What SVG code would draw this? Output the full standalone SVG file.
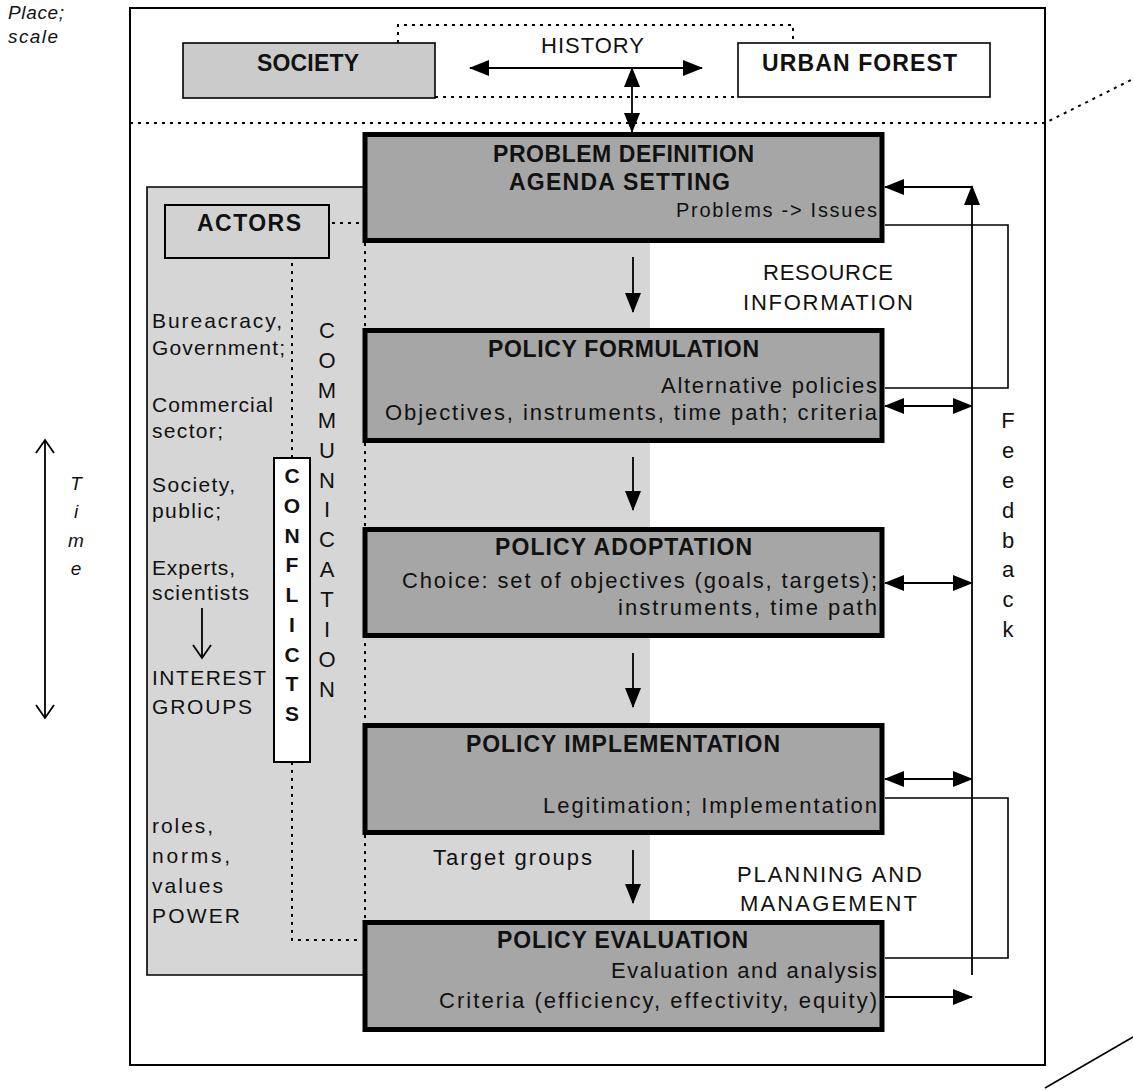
<svg xmlns="http://www.w3.org/2000/svg" width="1133" height="1090" viewBox="0 0 1133 1090">
<style>
text{font-family:"Liberation Sans",Arial,Helvetica,sans-serif;fill:#111}
.b{font-weight:bold}
.t{font-size:23px}
.h{font-size:22px}
.r{font-size:22px}
.p{font-size:20px}
.s{font-size:21px}
.c{text-anchor:middle}
.e{text-anchor:end}
.i{font-style:italic;font-size:19px}
.stage rect{fill:#a6a6a6;stroke:#000;stroke-width:5}
.dot{fill:none;stroke:#000;stroke-width:2;stroke-dasharray:3 5}
.ln{fill:none;stroke:#000;stroke-width:1.6}
.ar{fill:none;stroke:#000;stroke-width:1.8}
</style>
<defs>
<marker id="ah" markerUnits="userSpaceOnUse" markerWidth="20" markerHeight="16" refX="19" refY="8" orient="auto-start-reverse"><path d="M0,0 L20,8 L0,16 z" fill="#000"/></marker>
<marker id="oh" markerUnits="userSpaceOnUse" markerWidth="16" markerHeight="20" refX="14" refY="10" orient="auto-start-reverse"><path d="M1,1 L14,10 L1,19" fill="none" stroke="#000" stroke-width="1.8"/></marker>
</defs>
<rect width="1133" height="1090" fill="#fff"/>

<g id="frame">
<rect x="130" y="8" width="915" height="1057" fill="#fff" stroke="#000" stroke-width="2"/>
<path class="dot" d="M130,123 H1045 L1133,79"/>
<path d="M1045,1088 L1133,1037" stroke="#000" stroke-width="1.6" fill="none"/>
</g>

<g id="place-scale">
<text class="i" x="8" y="19" textLength="56" lengthAdjust="spacing">Place;</text>
<text class="i" x="8" y="43" textLength="50" lengthAdjust="spacing">scale</text>
</g>

<g id="time">
<line class="ar" x1="45" y1="440" x2="45" y2="718" marker-start="url(#oh)" marker-end="url(#oh)"/>
<text class="i c" x="76" y="490" font-size="21">T</text>
<text class="i c" x="76" y="518" font-size="21">i</text>
<text class="i c" x="76" y="547" font-size="21">m</text>
<text class="i c" x="76" y="575" font-size="21">e</text>
</g>

<g id="actors-panel">
<rect x="147" y="187" width="503" height="788" fill="#d6d6d6"/>
<path d="M650,187 H147 V975 H650" fill="none" stroke="#000" stroke-width="1.6"/>
</g>

<g id="connectors">
<path class="dot" d="M398,43 V25 H793 V43"/>
<path class="dot" d="M435,97 H738"/>
<path class="dot" d="M300,223 H362"/>
<path class="dot" d="M292,223 V458"/>
<path class="dot" d="M292,762 V940 H362"/>
<path class="dot" d="M365,243 V920"/>
<line class="ar" x1="470" y1="68" x2="702" y2="68" marker-start="url(#ah)" marker-end="url(#ah)"/>
<line class="ar" x1="632" y1="68" x2="632" y2="132" marker-start="url(#ah)" marker-end="url(#ah)"/>
<line class="ar" x1="633" y1="257" x2="633" y2="312" marker-end="url(#ah)"/>
<line class="ar" x1="633" y1="457" x2="633" y2="510" marker-end="url(#ah)"/>
<line class="ar" x1="633" y1="653" x2="633" y2="707" marker-end="url(#ah)"/>
<line class="ar" x1="633" y1="850" x2="633" y2="903" marker-end="url(#ah)"/>
<line class="ar" x1="202" y1="608" x2="202" y2="658" marker-end="url(#oh)"/>
<path class="ar" d="M972,975 V186" marker-end="url(#ah)"/>
<path class="ar" d="M972,187 H885" marker-end="url(#ah)"/>
<path class="ln" d="M885,225 H1008 V388 H885"/>
<path class="ln" d="M885,798 H1008 V958 H885"/>
<line class="ar" x1="885" y1="406" x2="972" y2="406" marker-start="url(#ah)" marker-end="url(#ah)"/>
<line class="ar" x1="885" y1="583" x2="972" y2="583" marker-start="url(#ah)" marker-end="url(#ah)"/>
<line class="ar" x1="885" y1="779" x2="972" y2="779" marker-start="url(#ah)" marker-end="url(#ah)"/>
<line class="ar" x1="885" y1="997" x2="972" y2="997" marker-end="url(#ah)"/>
</g>

<g id="society">
<rect x="183" y="43" width="252" height="55" fill="#cbcbcb" stroke="#000" stroke-width="1.6"/>
<text class="t b c" x="308" y="71" textLength="102" lengthAdjust="spacing">SOCIETY</text>
</g>
<g id="urban-forest">
<rect x="738" y="43" width="252" height="54" fill="#fff" stroke="#000" stroke-width="1.6"/>
<text class="t b c" x="859.5" y="71" textLength="195" lengthAdjust="spacing">URBAN FOREST</text>
</g>
<g id="history">
<text class="h c" x="592.5" y="53" textLength="103" lengthAdjust="spacing">HISTORY</text>
</g>

<g id="actors">
<rect x="165" y="205" width="164" height="53" fill="#d2d2d2" stroke="#000" stroke-width="2"/>
<text class="t b c" x="249" y="231" textLength="104" lengthAdjust="spacing">ACTORS</text>
</g>

<g id="actor-list">
<text class="s" x="152" y="328" textLength="130" lengthAdjust="spacing">Bureacracy,</text>
<text class="s" x="152" y="355" textLength="133" lengthAdjust="spacing">Government;</text>
<text class="s" x="152" y="412" textLength="121" lengthAdjust="spacing">Commercial</text>
<text class="s" x="152" y="438" textLength="71" lengthAdjust="spacing">sector;</text>
<text class="s" x="152" y="492" textLength="83" lengthAdjust="spacing">Society,</text>
<text class="s" x="152" y="518" textLength="69" lengthAdjust="spacing">public;</text>
<text class="s" x="152" y="575" textLength="83" lengthAdjust="spacing">Experts,</text>
<text class="s" x="152" y="600" textLength="97" lengthAdjust="spacing">scientists</text>
<text class="s" x="152" y="685" textLength="114" lengthAdjust="spacing">INTEREST</text>
<text class="s" x="152" y="714" textLength="100" lengthAdjust="spacing">GROUPS</text>
<text class="s" x="152" y="833" textLength="61" lengthAdjust="spacing">roles,</text>
<text class="s" x="152" y="863" textLength="78" lengthAdjust="spacing">norms,</text>
<text class="s" x="152" y="893" textLength="71" lengthAdjust="spacing">values</text>
<text class="s" x="152" y="923" textLength="88" lengthAdjust="spacing">POWER</text>
</g>

<g id="conflicts">
<rect x="274" y="458" width="36" height="304" fill="#fff" stroke="#000" stroke-width="2"/>
<g class="b c" font-size="21">
<text x="292" y="483">C</text><text x="292" y="513">O</text><text x="292" y="543">N</text><text x="292" y="572">F</text><text x="292" y="602">L</text><text x="292" y="632">I</text><text x="292" y="662">C</text><text x="292" y="691">T</text><text x="292" y="721">S</text>
</g>
</g>

<g id="communication">
<g class="h c">
<text x="327" y="338">C</text><text x="327" y="368">O</text><text x="327" y="398">M</text><text x="327" y="428">M</text><text x="327" y="458">U</text><text x="327" y="488">N</text><text x="327" y="517">I</text><text x="327" y="547">C</text><text x="327" y="577">A</text><text x="327" y="607">T</text><text x="327" y="637">I</text><text x="327" y="667">O</text><text x="327" y="697">N</text>
</g>
</g>

<g id="problem-definition" class="stage">
<rect x="365" y="134.5" width="517" height="106"/>
<text class="t b c" x="623.5" y="162" textLength="261" lengthAdjust="spacing">PROBLEM DEFINITION</text>
<text class="t b c" x="619.5" y="190" textLength="221" lengthAdjust="spacing">AGENDA SETTING</text>
<text class="p e" x="877" y="217" textLength="201" lengthAdjust="spacing">Problems -&gt; Issues</text>
</g>

<g id="policy-formulation" class="stage">
<rect x="365" y="330.5" width="517" height="110"/>
<text class="t b c" x="623.5" y="357" textLength="271" lengthAdjust="spacing">POLICY FORMULATION</text>
<text class="r e" x="877" y="393" textLength="216" lengthAdjust="spacing">Alternative policies</text>
<text class="r e" x="877" y="420" textLength="492" lengthAdjust="spacing">Objectives, instruments, time path; criteria</text>
</g>

<g id="policy-adoptation" class="stage">
<rect x="365" y="529.5" width="517" height="106"/>
<text class="t b c" x="623.5" y="555" textLength="257" lengthAdjust="spacing">POLICY ADOPTATION</text>
<text class="r e" x="877" y="588" textLength="475" lengthAdjust="spacing">Choice: set of objectives (goals, targets);</text>
<text class="r e" x="877" y="615" textLength="259" lengthAdjust="spacing">instruments, time path</text>
</g>

<g id="policy-implementation" class="stage">
<rect x="365" y="725.5" width="517" height="107"/>
<text class="t b c" x="623" y="752" textLength="314" lengthAdjust="spacing">POLICY IMPLEMENTATION</text>
<text class="r e" x="877" y="813" textLength="334" lengthAdjust="spacing">Legitimation; Implementation</text>
</g>

<g id="policy-evaluation" class="stage">
<rect x="365" y="922.5" width="517" height="107"/>
<text class="t b c" x="622.5" y="948" textLength="251" lengthAdjust="spacing">POLICY EVALUATION</text>
<text class="r e" x="877" y="978" textLength="266" lengthAdjust="spacing">Evaluation and analysis</text>
<text class="r e" x="877" y="1008" textLength="438" lengthAdjust="spacing">Criteria (efficiency, effectivity, equity)</text>
</g>

<g id="target-groups">
<text class="r" x="433" y="865" textLength="159" lengthAdjust="spacing">Target groups</text>
</g>

<g id="resource-information">
<text class="h c" x="828" y="280" textLength="130" lengthAdjust="spacing">RESOURCE</text>
<text class="h c" x="828" y="310" textLength="170" lengthAdjust="spacing">INFORMATION</text>
</g>

<g id="planning-management">
<text class="h c" x="829.5" y="882" textLength="185" lengthAdjust="spacing">PLANNING AND</text>
<text class="h c" x="828.5" y="911" textLength="177" lengthAdjust="spacing">MANAGEMENT</text>
</g>

<g id="feedback">
<g class="h c">
<text x="1008" y="428">F</text><text x="1008" y="458">e</text><text x="1008" y="488">e</text><text x="1008" y="518">d</text><text x="1008" y="548">b</text><text x="1008" y="577">a</text><text x="1008" y="607">c</text><text x="1008" y="637">k</text>
</g>
</g>
</svg>
